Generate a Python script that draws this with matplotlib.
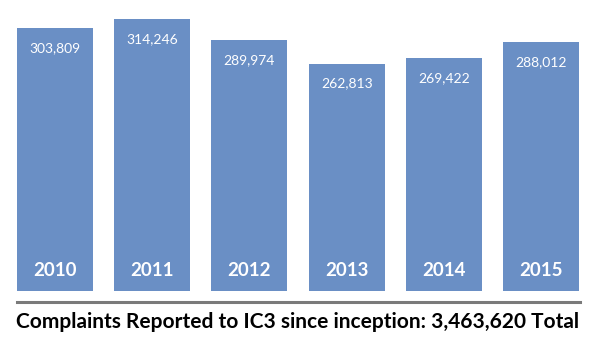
import matplotlib.pyplot as plt
from matplotlib.lines import Line2D

plt.rcParams['font.family'] = ['Lato', 'DejaVu Sans']

years = ['2010', '2011', '2012', '2013', '2014', '2015']
complaints = [303809, 314246, 289974, 262813, 269422, 288012]
total_label = 'Complaints Reported to IC3 since inception: 3,463,620 Total'

bar_color = '#6a8fc5'

fig = plt.figure(figsize=(5.93, 3.43), dpi=100)
ax = fig.add_axes([17 / 593, 52 / 343, 562 / 593, 272 / 343])

x = range(len(years))
bars = ax.bar(x, complaints, width=0.78, color=bar_color)
ax.set_xlim(-0.39, len(years) - 1 + 0.39)
ax.set_ylim(0, max(complaints))
ax.axis('off')

# value labels near the top, year labels near the bottom of each bar
for xi, val, yr in zip(x, complaints, years):
    ax.annotate(f'{val:,}', (xi, val), xytext=(0, -20), textcoords='offset pixels',
                ha='center', va='center', color='white', fontsize=10)
    ax.annotate(yr, (xi, 0), xytext=(0, 21), textcoords='offset pixels',
                ha='center', va='center', color='white', fontsize=13.5, fontweight='bold')

# grey rule under the bars
fig.add_artist(Line2D([17 / 593, 580 / 593], [41 / 343, 41 / 343],
                      transform=fig.transFigure, color='#7a7a7a', linewidth=2.2))

fig.text(298 / 593, 21 / 343, total_label, ha='center', va='center',
         fontsize=15, fontweight='bold', color='black')

fig.savefig('out.png', dpi=100)
